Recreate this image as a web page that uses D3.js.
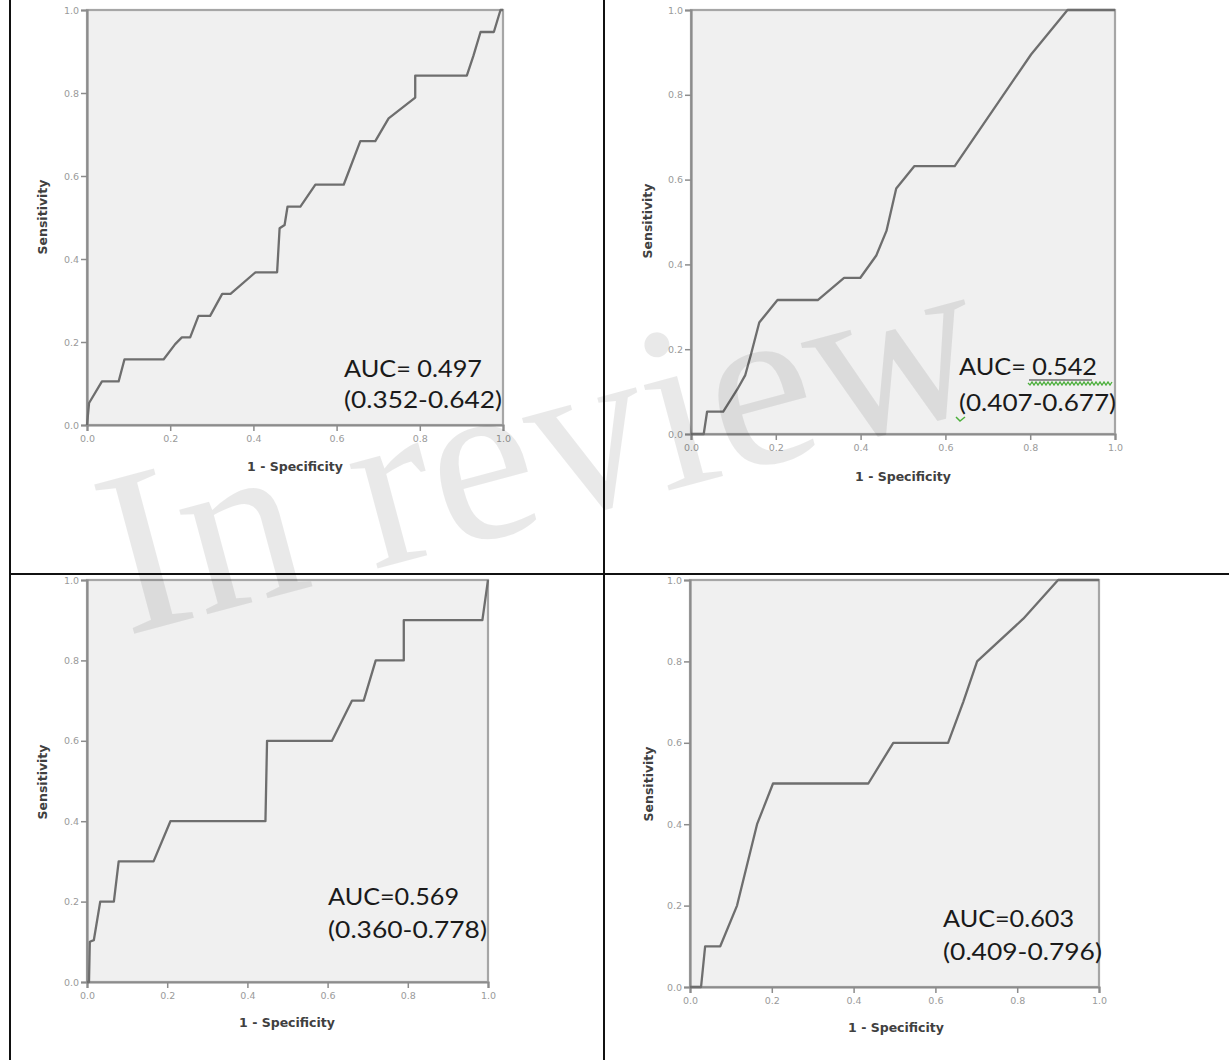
<!DOCTYPE html>
<html>
<head>
<meta charset="utf-8">
<script src="https://cdn.jsdelivr.net/npm/d3@7"></script>
<style>
  html, body { margin: 0; padding: 0; background: #fff; }
  svg { display: block; }
</style>
</head>
<body>
<svg id="chart" width="1229" height="1060"></svg>
<script>
// ---------- DATA ----------
const tickValues = [0, 0.2, 0.4, 0.6, 0.8, 1.0];
const xTitle = "1 - Specificity";
const yTitle = "Sensitivity";

const fpr1 = [0, 0.005, 0.036, 0.076, 0.090, 0.184, 0.212, 0.228, 0.248, 0.268, 0.296, 0.325, 0.345, 0.405, 0.457, 0.463, 0.475, 0.482, 0.513, 0.549, 0.617, 0.657, 0.693, 0.725, 0.789, 0.789, 0.913, 0.929, 0.946, 0.978, 0.994, 1];
const tpr1 = [0, 0.053, 0.105, 0.105, 0.158, 0.158, 0.195, 0.211, 0.211, 0.263, 0.263, 0.316, 0.316, 0.368, 0.368, 0.474, 0.482, 0.526, 0.526, 0.579, 0.579, 0.684, 0.684, 0.739, 0.789, 0.842, 0.842, 0.890, 0.947, 0.947, 1, 1];

const fpr2 = [0, 0.030, 0.038, 0.076, 0.109, 0.128, 0.142, 0.161, 0.204, 0.299, 0.361, 0.399, 0.437, 0.461, 0.484, 0.527, 0.622, 0.802, 0.888, 1];
const tpr2 = [0, 0, 0.053, 0.053, 0.105, 0.139, 0.190, 0.263, 0.316, 0.316, 0.368, 0.368, 0.421, 0.479, 0.579, 0.632, 0.632, 0.895, 1, 1];

const fpr3 = [0, 0.005, 0.007, 0.017, 0.033, 0.067, 0.079, 0.166, 0.208, 0.445, 0.449, 0.611, 0.661, 0.690, 0.720, 0.790, 0.790, 0.986, 1];
const tpr3 = [0, 0, 0.1, 0.104, 0.2, 0.2, 0.3, 0.3, 0.4, 0.4, 0.6, 0.6, 0.7, 0.7, 0.8, 0.8, 0.9, 0.9, 1];

const fpr4 = [0, 0.027, 0.037, 0.074, 0.115, 0.164, 0.203, 0.436, 0.497, 0.631, 0.668, 0.702, 0.815, 0.900, 1];
const tpr4 = [0, 0, 0.1, 0.1, 0.2, 0.4, 0.5, 0.5, 0.6, 0.6, 0.7, 0.8, 0.905, 1, 1];

const aucLines = [
  ["AUC= 0.497", "(0.352-0.642)"],
  ["AUC= 0.542", "(0.407-0.677)"],
  ["AUC=0.569", "(0.360-0.778)"],
  ["AUC=0.603", "(0.409-0.796)"]
];
const watermarkText = "In review";

// ---------- LAYOUT ----------
const panels = [
  { fpr: fpr1, tpr: tpr1, auc: aucLines[0], px: [87, 503], py: [425, 10],
    textX: 344, base: [377, 408], w: [138, 158], xt: [295, 471], yt: [43, 217] },
  { fpr: fpr2, tpr: tpr2, auc: aucLines[1], px: [691, 1115], py: [434, 10],
    textX: 959, base: [375, 411], w: [138, 157], xt: [903, 481], yt: [648, 221] },
  { fpr: fpr3, tpr: tpr3, auc: aucLines[2], px: [87, 488], py: [982, 580],
    textX: 328, base: [905, 938], w: [131, 159], xt: [287, 1027], yt: [43, 782] },
  { fpr: fpr4, tpr: tpr4, auc: aucLines[3], px: [690, 1099], py: [987, 580],
    textX: 943, base: [927, 960], w: [131, 159], xt: [896, 1032], yt: [649, 784] }
];

const svg = d3.select("#chart");

// table grid lines
const grid = svg.append("g").attr("stroke", "#111").attr("stroke-width", 2);
grid.append("line").attr("x1", 10).attr("x2", 10).attr("y1", 0).attr("y2", 1060);
grid.append("line").attr("x1", 604).attr("x2", 604).attr("y1", 0).attr("y2", 1060);
grid.append("line").attr("x1", 10).attr("x2", 1229).attr("y1", 574).attr("y2", 574);

panels.forEach(p => {
  const x = d3.scaleLinear().domain([0, 1]).range(p.px);
  const y = d3.scaleLinear().domain([0, 1]).range(p.py);
  const g = svg.append("g");

  // plot background
  g.append("rect")
    .attr("x", x(0)).attr("y", y(1))
    .attr("width", x(1) - x(0)).attr("height", y(0) - y(1))
    .attr("fill", "#f0f0f0")
    .attr("stroke", "#a6a6a6").attr("stroke-width", 2.2);

  // axes
  const xAxis = d3.axisBottom(x).tickValues(tickValues).tickFormat(d3.format(".1f")).tickSize(6).tickPadding(4);
  const yAxis = d3.axisLeft(y).tickValues(tickValues).tickFormat(d3.format(".1f")).tickSize(6).tickPadding(2);

  const gx = g.append("g").attr("transform", `translate(0,${y(0)})`).call(xAxis);
  const gy = g.append("g").attr("transform", `translate(${x(0)},0)`).call(yAxis);
  [gx, gy].forEach(a => {
    a.select(".domain").attr("stroke", "#8c8c8c").attr("stroke-width", 2.2);
    a.selectAll(".tick line").attr("stroke", "#8c8c8c").attr("stroke-width", 1.5);
    a.selectAll(".tick text")
      .attr("fill", "#9a9a9a")
      .style("font-family", "DejaVu Sans")
      .style("font-size", "9.5px");
  });

  // ROC curve
  const pts = p.fpr.map((v, i) => [v, p.tpr[i]]);
  const line = d3.line().x(d => x(d[0])).y(d => y(d[1]));
  g.append("path")
    .datum(pts)
    .attr("d", line)
    .attr("fill", "none")
    .attr("stroke", "#6e6e6e")
    .attr("stroke-width", 2.3)
    .attr("stroke-linejoin", "round");

  // axis titles
  g.append("text")
    .attr("x", p.xt[0]).attr("y", p.xt[1])
    .attr("text-anchor", "middle")
    .attr("fill", "#404040")
    .style("font-family", "DejaVu Sans").style("font-weight", "bold").style("font-size", "12.5px")
    .text(xTitle);
  g.append("text")
    .attr("transform", `translate(${p.yt[0] + 4},${p.yt[1]}) rotate(-90)`)
    .attr("text-anchor", "middle")
    .attr("fill", "#404040")
    .style("font-family", "DejaVu Sans").style("font-weight", "bold").style("font-size", "12.5px")
    .text(yTitle);

  // AUC text
  p.auc.forEach((t, i) => {
    g.append("text")
      .attr("x", p.textX).attr("y", p.base[i])
      .attr("fill", "#1a1a1a")
      .attr("textLength", p.w[i]).attr("lengthAdjust", "spacingAndGlyphs")
      .style("font-family", "Lato").style("font-size", "24px")
      .text(t);
  });
});

// spell-check marks on panel 2
const sq = d3.path();
sq.moveTo(1028, 383);
for (let xx = 1028; xx < 1110; xx += 4) {
  sq.lineTo(xx + 2, 385);
  sq.lineTo(xx + 4, 382);
}
svg.append("path").attr("d", sq.toString()).attr("fill", "none")
  .attr("stroke", "#4caf3c").attr("stroke-width", 1.3);
svg.append("line").attr("x1", 1029).attr("x2", 1092).attr("y1", 380).attr("y2", 380)
  .attr("stroke", "#333").attr("stroke-width", 1);
svg.append("path").attr("d", "M956,417 L960,421 L965,417").attr("fill", "none")
  .attr("stroke", "#4caf3c").attr("stroke-width", 1.5);

// watermark
svg.append("text")
  .attr("transform", "translate(126,636) rotate(-15)")
  .attr("fill", "#000").attr("fill-opacity", 0.085)
  .style("font-family", "Liberation Serif").style("font-size", "236px")
  .text(watermarkText);
</script>
</body>
</html>
